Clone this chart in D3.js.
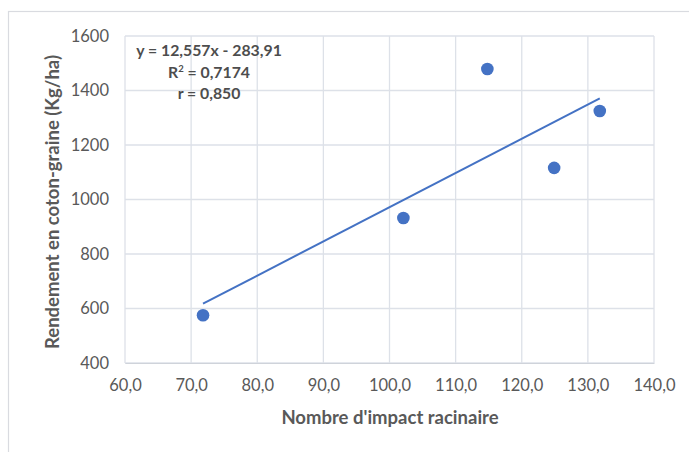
<!DOCTYPE html>
<html><head><meta charset="utf-8">
<script src="https://cdn.jsdelivr.net/npm/d3@7"></script>
<style>body{margin:0;background:#fff}svg{display:block}text{font-family:Lato,"Open Sans",sans-serif}</style>
</head><body><svg id="c" width="689" height="452"></svg>
<script>
const xValues = [71.8, 102.1, 114.8, 124.9, 131.8];
const yValues = [575, 932, 1479, 1116, 1325];
const xTicks = [60,70,80,90,100,110,120,130,140];
const yTicks = [400,600,800,1000,1200,1400,1600];
const slope = 12.557, intercept = -283.91;
const eqLines = ["y = 12,557x - 283,91", "R² = 0,7174", "r = 0,850"];
const xTitle = "Nombre d'impact racinaire";
const yTitle = "Rendement en coton-graine (Kg/ha)";

const svg = d3.select("#c");
const L=125, R=654, T=36, B=363;
const x = d3.scaleLinear().domain([60,140]).range([L,R]);
const y = d3.scaleLinear().domain([400,1600]).range([B,T]);
const grid="#dde1e8", tc="#595959", blue="#4472C4";

svg.append("rect").attr("x",8.5).attr("y",11.5).attr("width",700).attr("height",460)
  .attr("fill","none").attr("stroke","#d9dbe0").attr("stroke-width",1.2);

const g = svg.append("g");
g.selectAll(".vx").data(xTicks).join("line")
  .attr("x1",d=>x(d)).attr("x2",d=>x(d)).attr("y1",T).attr("y2",B)
  .attr("stroke",grid).attr("stroke-width",1.3);
g.selectAll(".hy").data(yTicks).join("line")
  .attr("x1",L).attr("x2",R).attr("y1",d=>y(d)).attr("y2",d=>y(d))
  .attr("stroke",grid).attr("stroke-width",1.3);

const fmt = d=> d.toFixed(1).replace(".",",");
const xa = svg.append("g").attr("transform",`translate(0,${B})`)
  .call(d3.axisBottom(x).tickValues(xTicks).tickFormat(fmt).tickSize(0).tickPadding(16));
xa.select(".domain").attr("stroke","#cfd3da");
xa.selectAll("text").attr("fill",tc).style("font-size","16.5px").attr("font-family","Lato");
const ya = svg.append("g").attr("transform",`translate(${L},0)`)
  .call(d3.axisLeft(y).tickValues(yTicks).tickFormat(d3.format("d")).tickSize(0).tickPadding(16));
ya.select(".domain").remove();
ya.selectAll("text").attr("fill",tc).style("font-size","16.5px").attr("font-family","Lato");

const xr=[d3.min(xValues), d3.max(xValues)];
svg.append("line").attr("x1",x(xr[0])).attr("y1",y(slope*xr[0]+intercept))
  .attr("x2",x(xr[1])).attr("y2",y(slope*xr[1]+intercept))
  .attr("stroke",blue).attr("stroke-width",2);

svg.selectAll(".pt").data(xValues).join("circle")
  .attr("cx",d=>x(d)).attr("cy",(d,i)=>y(yValues[i])).attr("r",6.3).attr("fill",blue);

const eq = svg.append("g").attr("font-weight","bold").attr("fill","#4d4d4d").style("font-size","15.8px");
eqLines.forEach((t,i)=>{
  const tx = eq.append("text").attr("x",209).attr("y",56+i*21.5).attr("text-anchor","middle");
  if(i===1){ tx.append("tspan").text("R"); tx.append("tspan").attr("font-size","9.5px").attr("dy",-6).text("2");
             tx.append("tspan").attr("dy",6).text(" = 0,7174"); }
  else tx.text(t);
});

svg.append("text").attr("x",390).attr("y",424).attr("text-anchor","middle")
  .attr("font-weight","bold").attr("fill",tc).style("font-size","18.5px").text(xTitle);
svg.append("text").attr("transform",`translate(59,202) rotate(-90)`).attr("text-anchor","middle")
  .attr("font-weight","bold").attr("fill",tc).style("font-size","18.5px").text(yTitle);
</script></body></html>
